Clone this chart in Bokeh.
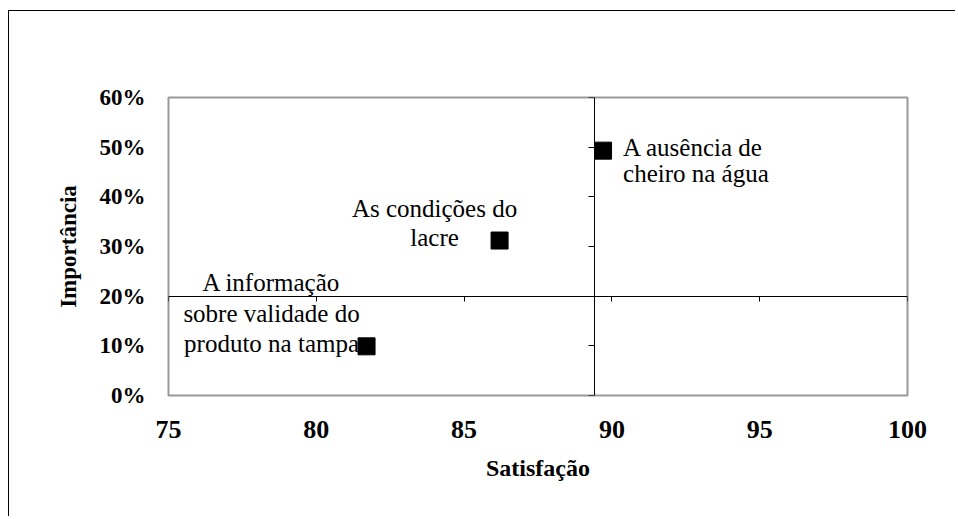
from bokeh.plotting import figure
from bokeh.models import (LinearAxis, FixedTicker, NumeralTickFormatter, ColumnDataSource,
                          Range1d, CustomJSTickFormatter, LabelSet)
from bokeh.embed import file_html
from bokeh.resources import INLINE

# ---- data ----
labels = ["A ausência de\ncheiro na água",
          "As condições do\nlacre",
          "A informação\nsobre validade do\nproduto na tampa"]
satisfacao = [89.7, 86.2, 81.7]
importancia = [0.493, 0.312, 0.099]
x_ticks = [75, 80, 85, 90, 95, 100]
y_ticks = [0.0, 0.1, 0.2, 0.3, 0.4, 0.5, 0.6]
x_cross = 89.4   # where the vertical axis crosses
y_cross = 0.2    # where the horizontal axis crosses

# label placement (screen offsets, styling only)
lab_dx = [20, -65, -95]
lab_dy0 = [5, -24, -55]      # baseline of first line below marker centre (px)
lab_lh = [26.5, 29, 30.5]    # line spacing in px
lab_align = ["left", "center", "center"]

FONT = "Liberation Serif"
LABEL_FONT = "DejaVu Serif"

rows = {"left": dict(x=[], y=[], text=[], dx=[], dy=[]),
        "center": dict(x=[], y=[], text=[], dx=[], dy=[])}
for i, lab in enumerate(labels):
    r = rows[lab_align[i]]
    for j, line in enumerate(lab.split("\n")):
        r["x"].append(satisfacao[i]); r["y"].append(importancia[i]); r["text"].append(line)
        r["dx"].append(lab_dx[i]); r["dy"].append(-(lab_dy0[i] + j * lab_lh[i]))
pt_src = ColumnDataSource(dict(x=satisfacao, y=importancia))

p = figure(width=947, height=506, output_backend="svg", toolbar_location=None,
           x_range=Range1d(75, 100), y_range=Range1d(0, 0.6),
           min_border_left=159, min_border_right=49, min_border_top=86, min_border_bottom=122)
p.styles = {"border-left": "1px solid black", "border-top": "1px solid black",
            "margin-top": "10px", "margin-left": "8px"}
p.xgrid.visible = False
p.ygrid.visible = False
p.outline_line_color = "#999999"
p.outline_line_width = 2
p.background_fill_color = "white"
p.border_fill_color = "white"

xa = p.xaxis[0]
xa.ticker = FixedTicker(ticks=x_ticks)
xa.axis_line_color = None
xa.major_tick_line_color = None
xa.minor_tick_line_color = None
xa.major_tick_out = 0
xa.major_tick_in = 0
xa.major_label_standoff = 25
xa.major_label_text_font = FONT
xa.major_label_text_font_style = "bold"
xa.major_label_text_font_size = "26px"
xa.major_label_text_color = "black"
xa.axis_label = "Satisfação"
xa.axis_label_text_font = FONT
xa.axis_label_text_font_style = "bold"
xa.axis_label_text_font_size = "24px"
xa.axis_label_text_color = "black"
xa.axis_label_standoff = 14

ya = p.yaxis[0]
ya.ticker = FixedTicker(ticks=y_ticks)
ya.formatter = NumeralTickFormatter(format="0%")
ya.axis_line_color = None
ya.major_tick_line_color = None
ya.minor_tick_line_color = None
ya.major_tick_out = 0
ya.major_tick_in = 0
ya.major_label_standoff = 23
ya.major_label_text_font = FONT
ya.major_label_text_font_style = "bold"
ya.major_label_text_font_size = "23px"
ya.major_label_text_color = "black"
ya.axis_label = "Importância"
ya.axis_label_text_font = FONT
ya.axis_label_text_font_style = "bold"
ya.axis_label_text_font_size = "23px"
ya.axis_label_text_color = "black"
ya.axis_label_standoff = 16

blank = CustomJSTickFormatter(code="return '';")
vax = LinearAxis(fixed_location=x_cross, ticker=FixedTicker(ticks=y_ticks), formatter=blank,
                 major_tick_in=6, major_tick_out=0, minor_tick_line_color=None,
                 major_label_text_font_size="0px", axis_line_color="black",
                 major_tick_line_color="black")
p.add_layout(vax, "right")
hax = LinearAxis(fixed_location=y_cross, ticker=FixedTicker(ticks=x_ticks), formatter=blank,
                 major_tick_in=5, major_tick_out=0, minor_tick_line_color=None,
                 major_label_text_font_size="0px", axis_line_color="black",
                 major_tick_line_color="black")
p.add_layout(hax, "above")

for align, r in rows.items():
    ls = LabelSet(x="x", y="y", text="text", source=ColumnDataSource(r),
                  x_offset="dx", y_offset="dy", text_align=align,
                  text_baseline="alphabetic", text_font=LABEL_FONT,
                  text_font_size="25px", text_color="black")
    p.add_layout(ls)

p.scatter(x="x", y="y", source=pt_src, marker="square", size=17,
          fill_color="black", line_color="black")

open("out.html", "w").write(file_html(p, INLINE))
